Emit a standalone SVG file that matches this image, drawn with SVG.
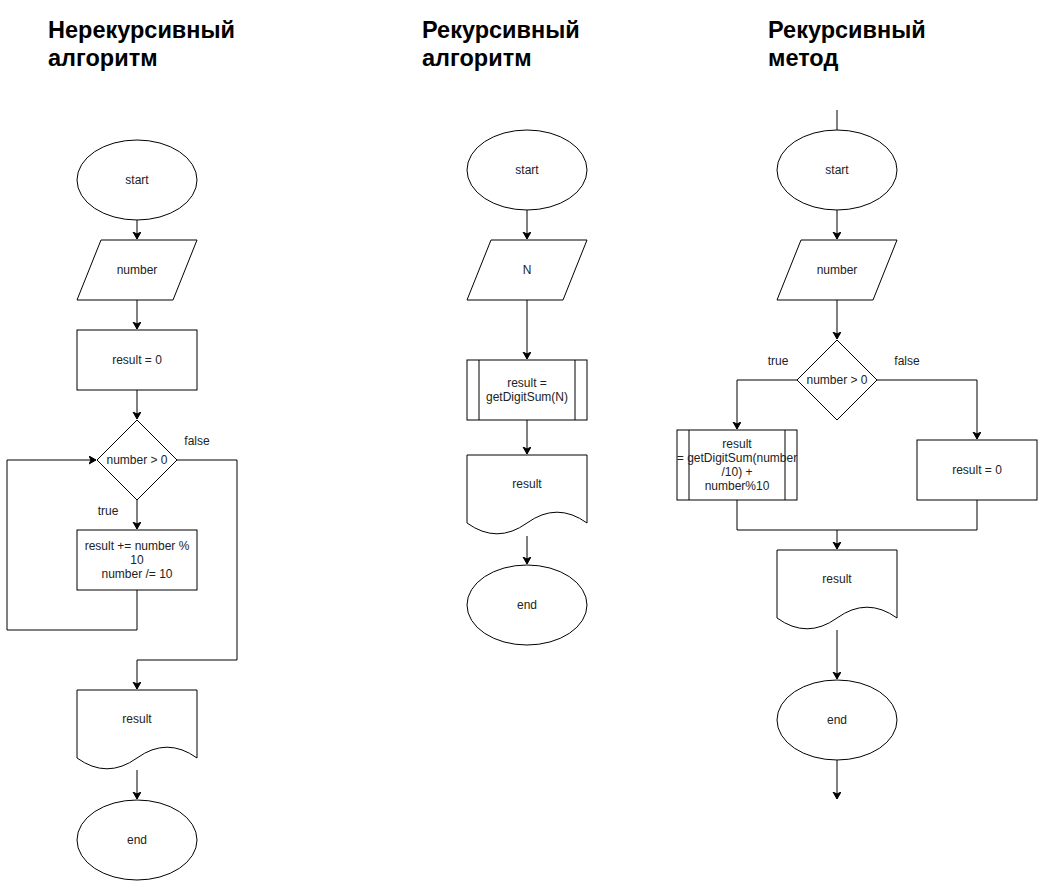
<svg xmlns="http://www.w3.org/2000/svg" width="1038" height="881" viewBox="0 0 1038 881">
<defs>
<marker id="arr" markerWidth="10" markerHeight="10" refX="7" refY="4" orient="auto" markerUnits="userSpaceOnUse">
<path d="M0,0 L7,4 L0,8 L2,4 Z" fill="#000" stroke="#000" stroke-width="1"/>
</marker>
<style>
.s{fill:#fff;stroke:#000;stroke-width:1}
.l{fill:none;stroke:#000;stroke-width:1}
.t{font-family:"Liberation Sans",Arial,sans-serif;font-size:12px;fill:#222;text-anchor:middle;dominant-baseline:central}
.h{font-family:"Liberation Sans",Arial,sans-serif;font-size:23.5px;font-weight:bold;fill:#000}
</style>
</defs>
<rect width="1038" height="881" fill="#fff"/>

<g id="titles">
<text class="h" x="48" y="38">Нерекурсивный</text>
<text class="h" x="48" y="66">алгоритм</text>
<text class="h" x="422" y="38">Рекурсивный</text>
<text class="h" x="422" y="66">алгоритм</text>
<text class="h" x="768" y="38">Рекурсивный</text>
<text class="h" x="768" y="66">метод</text>
</g>

<g id="connectors">
<path class="l" d="M137,220 V239" marker-end="url(#arr)"/>
<path class="l" d="M137,300 V329" marker-end="url(#arr)"/>
<path class="l" d="M137,390 V419" marker-end="url(#arr)"/>
<path class="l" d="M137,500 V529" marker-end="url(#arr)"/>
<path class="l" d="M137,590 V630 H7 V460 H96" marker-end="url(#arr)"/>
<path class="l" d="M177,460 H237 V660 H137 V689" marker-end="url(#arr)"/>
<path class="l" d="M137,770 V799" marker-end="url(#arr)"/>
<path class="l" d="M527,210 V239" marker-end="url(#arr)"/>
<path class="l" d="M527,300 V359" marker-end="url(#arr)"/>
<path class="l" d="M527,420 V454" marker-end="url(#arr)"/>
<path class="l" d="M527,536 V564" marker-end="url(#arr)"/>
<path class="l" d="M837,110 V130"/>
<path class="l" d="M837,210 V239" marker-end="url(#arr)"/>
<path class="l" d="M837,300 V339" marker-end="url(#arr)"/>
<path class="l" d="M797,380 H737 V429" marker-end="url(#arr)"/>
<path class="l" d="M877,380 H977 V439" marker-end="url(#arr)"/>
<path class="l" d="M737,500 V530 H977 V500"/>
<path class="l" d="M837,530 V549" marker-end="url(#arr)"/>
<path class="l" d="M837,630 V679" marker-end="url(#arr)"/>
<path class="l" d="M837,760 V799" marker-end="url(#arr)"/>
</g>

<g id="labels">
<text class="t" x="197" y="441">false</text>
<text class="t" x="108" y="511">true</text>
<text class="t" x="778" y="361">true</text>
<text class="t" x="907" y="361">false</text>
</g>

<g id="l_start"><ellipse class="s" cx="137" cy="180" rx="60" ry="40"/><text class="t" x="137" y="180">start</text></g>
<g id="l_input"><path class="s" d="M101,240 H197 L173,300 H77 Z"/><text class="t" x="137" y="270">number</text></g>
<g id="l_init"><rect class="s" x="77" y="330" width="120" height="60"/><text class="t" x="137" y="360">result = 0</text></g>
<g id="l_cond"><path class="s" d="M137,420 L177,460 L137,500 L97,460 Z"/><text class="t" x="137" y="460">number &gt; 0</text></g>
<g id="l_body"><rect class="s" x="77" y="530" width="120" height="60"/>
<text class="t" x="137" y="546">result += number %</text>
<text class="t" x="137" y="560">10</text>
<text class="t" x="137" y="574">number /= 10</text></g>
<g id="l_out"><path class="s" d="M77,690 H197 V758 Q167,736.4 137,758 Q107,779.6 77,758 Z"/><text class="t" x="137" y="719">result</text></g>
<g id="l_end"><ellipse class="s" cx="137" cy="840" rx="60" ry="40"/><text class="t" x="137" y="840">end</text></g>

<g id="m_start"><ellipse class="s" cx="527" cy="170" rx="60" ry="40"/><text class="t" x="527" y="170">start</text></g>
<g id="m_input"><path class="s" d="M491,240 H587 L563,300 H467 Z"/><text class="t" x="527" y="270">N</text></g>
<g id="m_call"><rect class="s" x="467" y="360" width="120" height="60"/>
<path class="l" d="M479,360 V420 M575,360 V420"/>
<text class="t" x="527" y="383">result =</text>
<text class="t" x="527" y="397">getDigitSum(N)</text></g>
<g id="m_out"><path class="s" d="M467,455 H587 V523 Q557,501.4 527,523 Q497,544.6 467,523 Z"/><text class="t" x="527" y="484">result</text></g>
<g id="m_end"><ellipse class="s" cx="527" cy="605" rx="60" ry="40"/><text class="t" x="527" y="605">end</text></g>

<g id="r_start"><ellipse class="s" cx="837" cy="170" rx="60" ry="40"/><text class="t" x="837" y="170">start</text></g>
<g id="r_input"><path class="s" d="M801,240 H897 L873,300 H777 Z"/><text class="t" x="837" y="270">number</text></g>
<g id="r_cond"><path class="s" d="M837,340 L877,380 L837,420 L797,380 Z"/><text class="t" x="837" y="380">number &gt; 0</text></g>
<g id="r_call"><rect class="s" x="677" y="430" width="120" height="70"/>
<path class="l" d="M689,430 V500 M785,430 V500"/>
<text class="t" x="737" y="444">result</text>
<text class="t" x="737" y="458">= getDigitSum(number</text>
<text class="t" x="737" y="472">/10) +</text>
<text class="t" x="737" y="486">number%10</text></g>
<g id="r_zero"><rect class="s" x="917" y="440" width="120" height="60"/><text class="t" x="977" y="470">result = 0</text></g>
<g id="r_out"><path class="s" d="M777,550 H897 V618 Q867,596.4 837,618 Q807,639.6 777,618 Z"/><text class="t" x="837" y="579">result</text></g>
<g id="r_end"><ellipse class="s" cx="837" cy="720" rx="60" ry="40"/><text class="t" x="837" y="720">end</text></g>
</svg>
